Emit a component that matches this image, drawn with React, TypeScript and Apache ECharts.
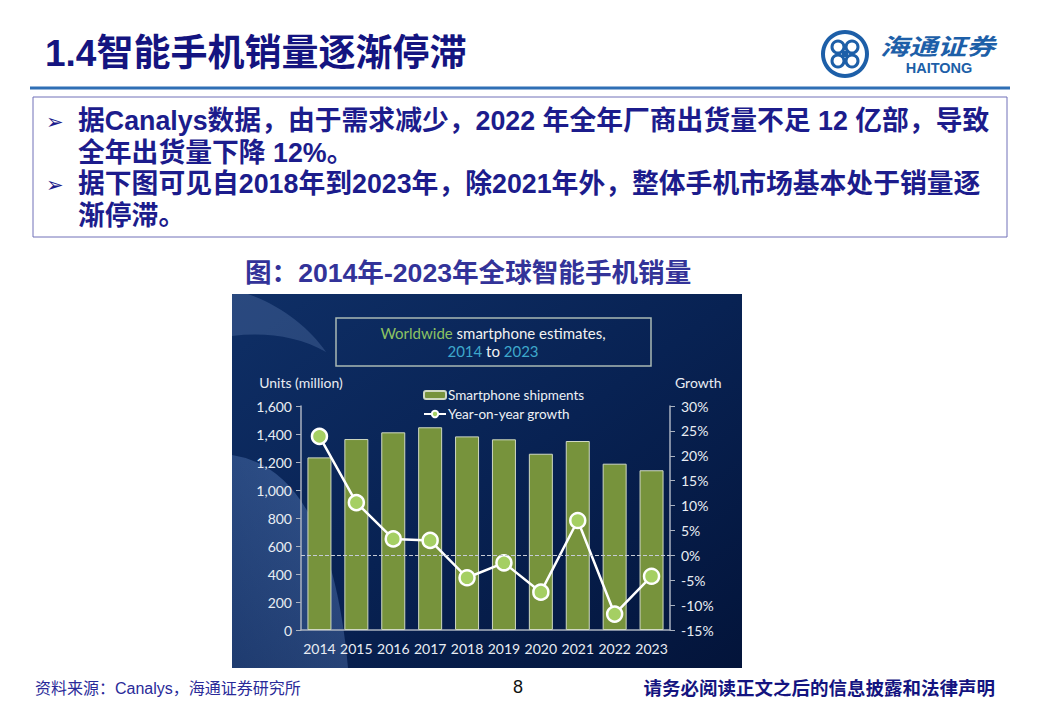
import React, { useEffect, useRef } from "react";
import * as echarts from "echarts";

const years = ["2014", "2015", "2016", "2017", "2018", "2019", "2020", "2021", "2022", "2023"];
const shipments = [1233, 1364, 1412, 1448, 1383, 1362, 1259, 1350, 1188, 1141];
const growth = [23.9, 10.6, 3.3, 3.0, -4.5, -1.5, -7.4, 7.0, -11.8, -4.2];
const unitAxis = { min: 0, max: 1600, interval: 200 };
const growthAxis = { min: -15, max: 30, interval: 5 };

const pageTitle = "1.4智能手机销量逐渐停滞";
const bulletLines = [
  { arrow: true, text: "据Canalys数据，由于需求减少，2022 年全年厂商出货量不足 12 亿部，导致" },
  { arrow: false, text: "全年出货量下降 12%。" },
  { arrow: true, text: "据下图可见自2018年到2023年，除2021年外，整体手机市场基本处于销量逐" },
  { arrow: false, text: "渐停滞。" },
];
const figCaption = "图：2014年-2023年全球智能手机销量";
const sourceText = "资料来源：Canalys，海通证券研究所";
const pageNo = "8";
const disclaimer = "请务必阅读正文之后的信息披露和法律声明";
const legendNames = ["Smartphone shipments", "Year-on-year growth"];

const CN = "'Liberation Sans', 'Noto Sans CJK SC', sans-serif";
const LAT = "Lato, 'Open Sans', sans-serif";

echarts.graphic.registerShape(
  "bgLight",
  echarts.graphic.extendPath("M232 455 Q 330 470 348 668 L 232 668 Z", {})
);
echarts.graphic.registerShape(
  "bgCrescent",
  echarts.graphic.extendPath("M232 294 L 248 294 C 280 305 310 328 326 352 C 298 336 265 332 232 336 Z", {})
);

export default function App() {
  const ref = useRef<HTMLDivElement>(null);
  useEffect(() => {
    if (!ref.current) return;
    const chart = echarts.init(ref.current, undefined, { renderer: "svg" });
    const navy = "#1c1c8c";
    const graphic: any[] = [
      // chart background
      {
        type: "rect",
        z: -20,
        shape: { x: 232, y: 294, width: 510, height: 374 },
        style: {
          fill: new echarts.graphic.LinearGradient(0, 0, 1, 1, [
            { offset: 0, color: "#0f2f66" },
            { offset: 0.5, color: "#082253" },
            { offset: 1, color: "#03143a" },
          ]),
        },
      },
      {
        type: "bgLight",
        z: -19,
        x: 0,
        y: 0,
        style: {
          fill: new echarts.graphic.LinearGradient(1, 0, 0, 1, [
            { offset: 0, color: "rgba(120,160,225,0.36)" },
            { offset: 1, color: "rgba(120,160,225,0.2)" },
          ]),
        },
      },
      {
        type: "bgCrescent",
        z: -19,
        x: 0,
        y: 0,
        style: { fill: "rgba(150,180,230,0.2)" },
      },
      // chart title box
      {
        type: "rect",
        z: 5,
        shape: { x: 336, y: 318, width: 315, height: 48 },
        style: { fill: "none", stroke: "#a9b9b4", lineWidth: 1.5 },
      },
      {
        type: "text",
        z: 5,
        x: 493,
        y: 342,
        style: {
          text: "{g|Worldwide} smartphone estimates,\n{b|2014} to {b|2023}",
          align: "center",
          verticalAlign: "middle",
          fill: "#f2f2f2",
          fontFamily: LAT,
          fontSize: 15,
          lineHeight: 18,
          rich: {
            g: { fill: "#8cc363", fontFamily: LAT, fontSize: 15, lineHeight: 18 },
            b: { fill: "#3ea8cc", fontFamily: LAT, fontSize: 15, lineHeight: 18 },
          },
        },
      },
      // page header
      {
        type: "text",
        x: 45,
        y: 53,
        style: {
          text: pageTitle,
          fill: "#141480",
          fontFamily: CN,
          fontWeight: "bold",
          fontSize: 37,
          verticalAlign: "middle",
        },
      },
      {
        type: "line",
        shape: { x1: 30, y1: 88, x2: 1010, y2: 88 },
        style: { stroke: "#2f6fb5", lineWidth: 3 },
      },
      // logo
      {
        type: "ring",
        shape: { cx: 845, cy: 54, r: 24, r0: 20 },
        style: { fill: "#1d5fa8" },
      },
      ...[
        [-7, -7],
        [7, -7],
        [-7, 7],
        [7, 7],
      ].map(([dx, dy]) => ({
        type: "circle",
        shape: { cx: 845 + dx, cy: 54 + dy, r: 6 },
        style: { fill: "none", stroke: "#1d5fa8", lineWidth: 3 },
      })),
      {
        type: "rect",
        shape: { x: 842, y: 51, width: 6, height: 6 },
        style: { fill: "#1d5fa8" },
      },
      {
        type: "text",
        x: 880,
        y: 33,
        scaleX: 1.25,
        style: {
          text: "海通证券",
          fill: "#1d5fa8",
          fontFamily: "'Noto Sans CJK SC', sans-serif",
          fontWeight: "bold",
          fontStyle: "italic",
          fontSize: 23,
          lineHeight: 23,
          verticalAlign: "top",
        },
      },
      {
        type: "text",
        x: 939,
        y: 61,
        style: {
          text: "HAITONG",
          fill: "#1d5fa8",
          fontFamily: "'Liberation Sans', sans-serif",
          fontWeight: "bold",
          fontSize: 14.5,
          lineHeight: 14,
          align: "center",
          verticalAlign: "top",
        },
      },
      // text box
      {
        type: "rect",
        shape: { x: 33, y: 97, width: 974, height: 140 },
        style: { fill: "none", stroke: "#7070b8", lineWidth: 1 },
      },
      ...bulletLines.flatMap((l, i) => {
        const y = 121 + i * 31.5;
        const els: any[] = [
          {
            type: "text",
            x: 78,
            y,
            style: {
              text: l.text,
              fill: navy,
              fontFamily: CN,
              fontWeight: "bold",
              fontSize: 26.8,
              verticalAlign: "middle",
            },
          },
        ];
        if (l.arrow) {
          els.push({
            type: "text",
            x: 46,
            y: y + 1,
            style: {
              text: "➢",
              fill: navy,
              fontFamily: "'DejaVu Sans', sans-serif",
              fontSize: 21,
              verticalAlign: "middle",
            },
          });
        }
        return els;
      }),
      // figure caption
      {
        type: "text",
        x: 245,
        y: 273,
        style: {
          text: figCaption,
          fill: "#333399",
          fontFamily: CN,
          fontWeight: "bold",
          fontSize: 26.6,
          verticalAlign: "middle",
        },
      },
      // footer
      {
        type: "text",
        x: 35,
        y: 688,
        style: {
          text: sourceText,
          fill: "#2a2a99",
          fontFamily: CN,
          fontSize: 16,
          verticalAlign: "middle",
        },
      },
      {
        type: "text",
        x: 518,
        y: 687,
        style: {
          text: pageNo,
          fill: "#111111",
          fontFamily: "'Liberation Sans', sans-serif",
          fontSize: 18,
          align: "center",
          verticalAlign: "middle",
        },
      },
      {
        type: "text",
        x: 995,
        y: 688,
        style: {
          text: disclaimer,
          fill: "#141480",
          fontFamily: CN,
          fontWeight: "bold",
          fontSize: 18.5,
          align: "right",
          verticalAlign: "middle",
        },
      },
    ];

    const axisText = { color: "#e9edf3", fontFamily: LAT, fontSize: 14 };
    const axisLine = { show: true, lineStyle: { color: "#aab2c0", width: 1.5 } };

    chart.setOption({
      animation: false,
      backgroundColor: "#ffffff",
      graphic,
      legend: {
        data: legendNames,
        orient: "vertical",
        left: 418,
        top: 383,
        itemWidth: 22,
        itemHeight: 8,
        itemGap: 5,
        textStyle: { color: "#eef1f5", fontFamily: LAT, fontSize: 13.5, padding: [0, 0, 0, -3] },
      },
      grid: { left: 301, top: 406, width: 369, height: 224, containLabel: false },
      xAxis: {
        type: "category",
        data: years,
        axisLine,
        axisTick: { show: false },
        axisLabel: { ...axisText, margin: 11, interval: 0 },
      },
      yAxis: [
        {
          type: "value",
          min: unitAxis.min,
          max: unitAxis.max,
          interval: unitAxis.interval,
          name: "Units (million)",
          nameLocation: "end",
          nameGap: 17,
          nameTextStyle: { color: "#e9edf3", fontFamily: LAT, fontSize: 14 },
          axisLine,
          axisTick: { show: true, length: 5, lineStyle: { color: "#aab2c0" } },
          axisLabel: {
            ...axisText,
            margin: 9,
            formatter: (v: number) => v.toLocaleString("en-US"),
          },
          splitLine: { show: false },
        },
        {
          type: "value",
          min: growthAxis.min,
          max: growthAxis.max,
          interval: growthAxis.interval,
          name: "Growth",
          nameLocation: "end",
          nameGap: 17,
          nameTextStyle: { color: "#e9edf3", fontFamily: LAT, fontSize: 14, align: "left", padding: [0, 0, 0, 5] },
          axisLine,
          axisTick: { show: true, length: 5, lineStyle: { color: "#aab2c0" } },
          axisLabel: { ...axisText, margin: 11, formatter: (v: number) => v + "%" },
          splitLine: { show: false },
        },
      ],
      series: [
        {
          name: legendNames[0],
          type: "bar",
          data: shipments,
          barWidth: 24,
          itemStyle: { color: "#77933c", borderColor: "#cfd8c2", borderWidth: 1 },
        },
        {
          name: legendNames[1],
          type: "line",
          yAxisIndex: 1,
          data: growth,
          symbol: "circle",
          symbolSize: 15,
          lineStyle: { color: "#ffffff", width: 2.5 },
          itemStyle: { color: "#a5cf63", borderColor: "#ffffff", borderWidth: 2.5 },
          markLine: {
            silent: true,
            symbol: "none",
            label: { show: false },
            lineStyle: { type: "dashed", color: "#c6ccd6", width: 1 },
            data: [{ yAxis: 0 }],
          },
        },
      ],
    });
    return () => chart.dispose();
  }, []);
  return (
    <div
      ref={ref}
      style={{ position: "fixed", left: 0, top: 0, width: 1040, height: 718 }}
    />
  );
}
